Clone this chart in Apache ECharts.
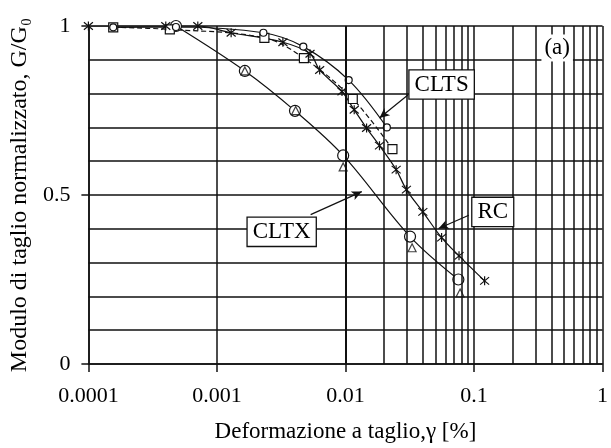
<!DOCTYPE html>
<html><head><meta charset="utf-8">
<script src="https://cdn.jsdelivr.net/npm/echarts@6/dist/echarts.min.js"></script>
<style>html,body{margin:0;padding:0;background:#fff}#c{width:611px;height:448px}</style>
</head><body><div id="c"></div>
<script>
// ---- data ----
const rcStrain = [0.0001, 0.00040, 0.00071, 0.00129, 0.00326, 0.0053, 0.0063, 0.0094, 0.0117, 0.0146, 0.0184, 0.0248, 0.0298, 0.040, 0.056, 0.0765, 0.121];
const rcG      = [1.0,    1.0,     1.0,     0.98,    0.952,   0.918,  0.87,   0.806,  0.752,  0.698,  0.646,  0.575,  0.516,  0.45,  0.374, 0.32,   0.246];

const sqStrain = [0.000156, 0.00043, 0.00234, 0.00475, 0.0114, 0.0232];
const sqG      = [0.996,    0.99,    0.965,   0.905,   0.784,  0.636];

const scStrain = [0.000156, 0.00048, 0.0023, 0.0047, 0.0106, 0.021];
const scG      = [0.996,    0.997,   0.98,   0.939,  0.84,   0.70];

const cxStrain = [0.00048, 0.00165, 0.00405, 0.0096, 0.0318, 0.0756];
const cxG      = [1.0,     0.867,   0.749,   0.617,  0.377,  0.25];

const trStrain = [0.00165, 0.0041, 0.0096, 0.033, 0.078];
const trG      = [0.867,   0.75,   0.583,  0.344, 0.21];

const xTickLabels = ['0.0001', '0.001', '0.01', '0.1', '1'];
const yTickLabels = { '0': '0', '0.5': '0.5', '1': '1' };

// ---- helpers ----
const zip = (a, b) => a.map((v, i) => [v, b[i]]);
const gridX = [];
[1e-4, 1e-3, 1e-2, 1e-1].forEach(d => { for (let m = 2; m <= 9; m++) gridX.push(+(d * m).toPrecision(2)); });

const serif = '"Liberation Serif","DejaVu Serif",serif';
const asterisk = 'path://M0,0L10,10M10,0L0,10M5,-1L5,11';
const black = '#111';
const gw = 1.5;

const chart = echarts.init(document.getElementById('c'), null, { renderer: 'canvas' });

const lineSeries = (name, data, symbol, size, dashed) => ({
  name, type: 'line', data, smooth: 0.35, symbol, symbolSize: size,
  lineStyle: { color: black, width: 1.2, type: dashed ? [5, 3] : 'solid' },
  itemStyle: { color: '#fff', borderColor: black, borderWidth: 1.2 },
  z: 3, animation: false
});

const option = {
  backgroundColor: '#fff',
  animation: false,
  grid: { left: 82, right: -3, top: 26, bottom: 83, containLabel: false },
  xAxis: {
    type: 'log', logBase: 10, min: 0.0001, max: 1,
    axisLine: { show: true, lineStyle: { color: black, width: gw } },
    axisTick: { show: true, inside: false, length: 8, lineStyle: { color: black, width: gw } },
    axisLabel: {
      color: '#000', fontFamily: serif, fontSize: 22, margin: 21,
      formatter: v => xTickLabels[Math.round(Math.log10(v)) + 4] ?? ''
    },
    splitLine: { show: true, lineStyle: { color: black, width: gw } },
    minorTick: { show: false }, minorSplitLine: { show: false },
    name: 'Deformazione a taglio,γ [%]', nameLocation: 'middle', nameGap: 56,
    nameTextStyle: { color: '#000', fontFamily: serif, fontSize: 23 }
  },
  yAxis: {
    type: 'value', min: 0, max: 1, interval: 0.5,
    axisLine: { show: true, lineStyle: { color: black, width: gw } },
    axisTick: { show: true, inside: false, length: 7, lineStyle: { color: black, width: gw } },
    axisLabel: {
      color: '#000', fontFamily: serif, fontSize: 22, margin: 18,
      formatter: v => yTickLabels[String(+v.toFixed(2))] ?? ''
    },
    splitLine: { show: true, lineStyle: { color: black, width: gw } },
    minorTick: { show: false, splitNumber: 5 },
    minorSplitLine: { show: true, lineStyle: { color: black, width: gw } },
    name: 'Modulo di taglio normalizzato, G/G₀', nameLocation: 'middle', nameGap: 51,
    nameTextStyle: { color: '#000', fontFamily: serif, fontSize: 24 }
  },
  series: [
    {
      name: 'grid', type: 'line', data: [], z: 1, silent: true,
      markLine: {
        silent: true, symbol: ['none', 'none'], animation: false,
        label: { show: false },
        lineStyle: { color: black, width: gw, type: 'solid' },
        data: gridX.map(x => ({ xAxis: x }))
      }
    },
    lineSeries('CLTX', zip(cxStrain, cxG), 'circle', 11, false),
    {
      name: 'CLTX-tri', type: 'scatter', data: zip(trStrain, trG), symbol: 'triangle', symbolSize: 8,
      itemStyle: { color: 'rgba(255,255,255,0)', borderColor: black, borderWidth: 1.2 }, z: 4
    },
    lineSeries('CLTS-sq', zip(sqStrain, sqG), 'rect', 9, true),
    lineSeries('CLTS-c', zip(scStrain, scG), 'circle', 7, false),
    Object.assign(lineSeries('RC', zip(rcStrain, rcG), asterisk, 9, false), {
      itemStyle: { color: 'none', borderColor: black, borderWidth: 1.2 }
    }),
    {
      name: 'arrows', type: 'line', data: [], z: 5, silent: true,
      markLine: {
        silent: true, symbol: ['none', 'arrow'], symbolSize: [7, 10], animation: false,
        label: { show: false },
        lineStyle: { color: black, width: 1.2, type: 'solid' },
        data: [
          [{ coord: [0.0306, 0.796] }, { coord: [0.0184, 0.728] }],
          [{ coord: [0.0912, 0.44] }, { coord: [0.053, 0.401] }],
          [{ coord: [0.00536, 0.442] }, { coord: [0.0134, 0.51] }]
        ]
      }
    }
  ]
};
chart.setOption(option);

const notes = [
  { text: 'CLTS', at: [0.056, 0.827], box: true },
  { text: 'RC', at: [0.140, 0.45], box: true },
  { text: 'CLTX', at: [0.00319, 0.391], box: true },
  { text: '(a)', at: [0.444, 0.935], box: false }
];
chart.setOption({
  graphic: notes.map(n => {
    const p = chart.convertToPixel({ gridIndex: 0 }, n.at);
    return {
      type: 'text', x: p[0], y: p[1], z: 100,
      style: {
        text: n.text, fill: '#000', font: '23px ' + serif,
        align: 'center', verticalAlign: 'middle',
        backgroundColor: '#fff',
        borderColor: n.box ? black : 'rgba(0,0,0,0)', borderWidth: n.box ? 1.3 : 0,
        padding: n.box ? [3, 5, 2, 5] : [2, 3, 2, 3]
      }
    };
  })
});
</script></body></html>
